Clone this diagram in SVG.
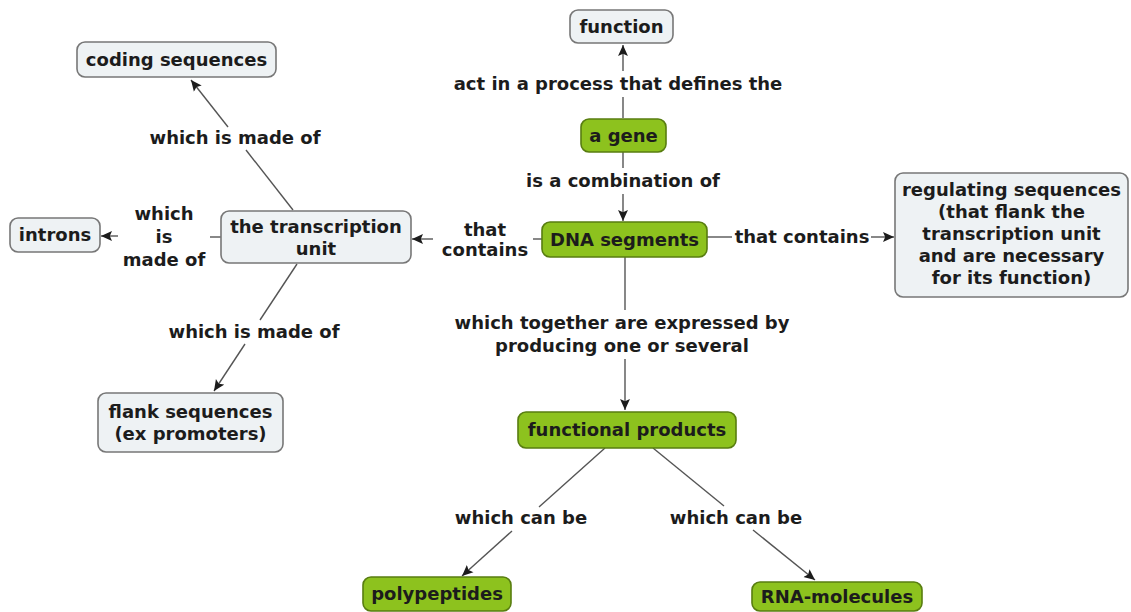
<svg xmlns="http://www.w3.org/2000/svg" width="1131" height="612" viewBox="0 0 1131 612">
<style>
text{font-family:"DejaVu Sans","Verdana",sans-serif;font-weight:bold;font-size:18px;fill:#1c1c1c;text-anchor:middle}
.lt rect{fill:#eef2f4;stroke:#777;stroke-width:1.6}
.gr rect{fill:#8dc21e;stroke:#587d10;stroke-width:1.6}
.cn path{fill:none;stroke:#555;stroke-width:1.4}
</style>
<defs>
<marker id="arr" viewBox="0 0 10 10" refX="10" refY="5" markerWidth="11" markerHeight="11" markerUnits="userSpaceOnUse" orient="auto">
<path d="M0,0.5 L10,5 L0,9.5 L2,5 z" fill="#1c1c1c"/>
</marker>
</defs>
<rect width="1131" height="612" fill="#ffffff"/>
<g class="cn" id="connectors">
<path d="M623,118 L623,97"/>
<path d="M623,71 L623,45" marker-end="url(#arr)"/>
<path d="M623,152 L623,168"/>
<path d="M623,194 L623,221" marker-end="url(#arr)"/>
<path d="M542,239 L533,239"/>
<path d="M433,239 L412,239" marker-end="url(#arr)"/>
<path d="M707,237 L732,237"/>
<path d="M871,237 L894,237" marker-end="url(#arr)"/>
<path d="M293,210 L246,150"/>
<path d="M228,127 L191,80" marker-end="url(#arr)"/>
<path d="M221,237 L210,237"/>
<path d="M118,236 L101,236" marker-end="url(#arr)"/>
<path d="M297,264 L260,320"/>
<path d="M245,344 L214,391" marker-end="url(#arr)"/>
<path d="M625,257 L625,310"/>
<path d="M625,359 L625,410" marker-end="url(#arr)"/>
<path d="M605,448 L539,507"/>
<path d="M512,531 L462,576" marker-end="url(#arr)"/>
<path d="M653,448 L724,506"/>
<path d="M753,530 L815,580" marker-end="url(#arr)"/>
</g>
<g id="labels">
<text x="618" y="90">act in a process that defines the</text>
<text x="623" y="187">is a combination of</text>
<text x="485" y="236">that</text>
<text x="485" y="256">contains</text>
<text x="802" y="243">that contains</text>
<text x="235" y="144">which is made of</text>
<text x="164" y="220">which</text>
<text x="164" y="243">is</text>
<text x="164" y="266">made of</text>
<text x="254" y="338">which is made of</text>
<text x="622" y="329">which together are expressed by</text>
<text x="622" y="352">producing one or several</text>
<text x="521" y="524">which can be</text>
<text x="736" y="524">which can be</text>
</g>
<g id="function" class="lt"><rect x="570" y="10" width="103" height="33" rx="8"/><text x="621.5" y="33">function</text></g>
<g id="a-gene" class="gr"><rect x="581" y="119" width="85" height="33" rx="8"/><text x="623.5" y="142">a gene</text></g>
<g id="dna-segments" class="gr"><rect x="542" y="222" width="165" height="35" rx="8"/><text x="624.5" y="246">DNA segments</text></g>
<g id="transcription-unit" class="lt"><rect x="221" y="211" width="190" height="52" rx="8"/><text x="316" y="233">the transcription</text><text x="316" y="255">unit</text></g>
<g id="regulating-sequences" class="lt"><rect x="895" y="173" width="233" height="124" rx="8"/>
<text x="1011.5" y="196">regulating sequences</text>
<text x="1011.5" y="218">(that flank the</text>
<text x="1011.5" y="240">transcription unit</text>
<text x="1011.5" y="262">and are necessary</text>
<text x="1011.5" y="284">for its function)</text></g>
<g id="coding-sequences" class="lt"><rect x="77" y="42" width="199" height="35" rx="8"/><text x="176.5" y="66">coding sequences</text></g>
<g id="introns" class="lt"><rect x="10" y="218" width="90" height="34" rx="8"/><text x="55" y="241">introns</text></g>
<g id="flank-sequences" class="lt"><rect x="98" y="393" width="185" height="59" rx="8"/><text x="190.5" y="418">flank sequences</text><text x="190.5" y="440">(ex promoters)</text></g>
<g id="functional-products" class="gr"><rect x="518" y="412" width="218" height="36" rx="8"/><text x="627" y="436">functional products</text></g>
<g id="polypeptides" class="gr"><rect x="363" y="577" width="148" height="34" rx="8"/><text x="437" y="600">polypeptides</text></g>
<g id="rna-molecules" class="gr"><rect x="752" y="582" width="170" height="29" rx="8"/><text x="837" y="603">RNA-molecules</text></g>
</svg>
